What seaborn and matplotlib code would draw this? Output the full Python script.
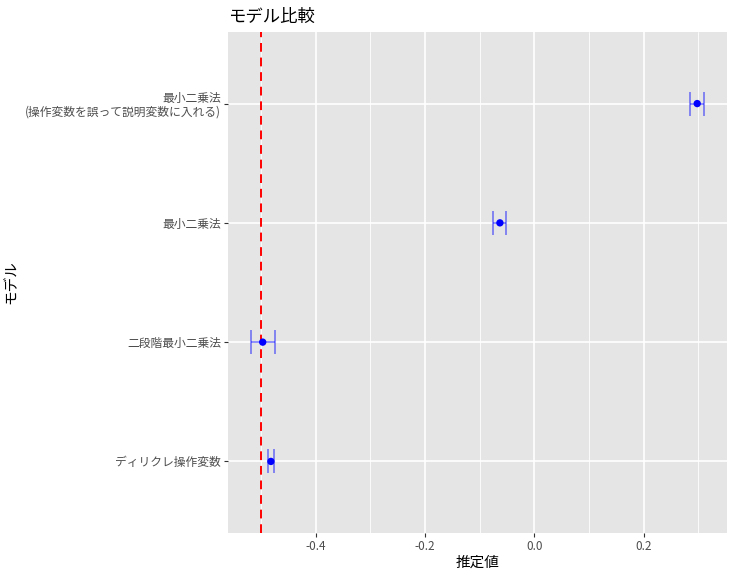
import numpy as np
import pandas as pd
import matplotlib
matplotlib.use("Agg")
import matplotlib.pyplot as plt
import seaborn as sns

# モデルごとの推定値と誤差幅（下から順）
models = ["ディリクレ操作変数", "二段階最小二乗法", "最小二乗法",
          "最小二乗法\n(操作変数を誤って説明変数に入れる)"]
estimates = [-0.482, -0.497, -0.063, 0.298]
lower = [-0.488, -0.519, -0.075, 0.285]
upper = [-0.477, -0.475, -0.051, 0.311]
true_value = -0.5

df = pd.DataFrame({"model": models, "estimate": estimates,
                   "lower": lower, "upper": upper})
df["pos"] = np.arange(1, len(models) + 1)

sns.set_theme(style="darkgrid", rc={
    "axes.facecolor": "#E5E5E5",
    "grid.color": "white",
    "axes.edgecolor": "#E5E5E5",
})
plt.rcParams["font.family"] = ["Noto Sans CJK JP", "DejaVu Sans"]

fig = plt.figure(figsize=(7.34, 5.76), dpi=100)
ax = fig.add_axes([228 / 734, 1 - 533 / 576, 499 / 734, 501 / 576])

ax.errorbar(df["estimate"], df["pos"],
            xerr=[df["estimate"] - df["lower"], df["upper"] - df["estimate"]],
            fmt="none", ecolor="blue", alpha=0.5, elinewidth=1.2,
            capsize=8.5, capthick=1.2, zorder=3)
sns.scatterplot(data=df, x="estimate", y="pos", color="blue", s=28,
                edgecolor="none", ax=ax, zorder=4)
ax.axvline(true_value, color="red", linestyle=(0, (4.5, 3)), linewidth=1.4, zorder=2)

ax.set_xlim(-0.5605, 0.3525)
ax.set_ylim(0.4, 4.6)
ax.set_xticks([-0.4, -0.2, 0.0, 0.2])
ax.set_xticklabels(["-0.4", "-0.2", "0.0", "0.2"])
ax.set_xticks([-0.5, -0.3, -0.1, 0.1, 0.3], minor=True)
ax.set_yticks(df["pos"])
ax.set_yticklabels(df["model"], linespacing=1.05)
ax.grid(which="major", color="white", linewidth=1.2)
ax.grid(which="minor", axis="x", color="white", linewidth=0.6)
ax.tick_params(axis="both", which="major", length=3, width=0.8, color="#333333",
               labelsize=8.5, labelcolor="#4D4D4D", pad=2,
               bottom=True, left=True)
ax.tick_params(axis="x", which="minor", length=0)

ax.set_xlabel("推定値", fontsize=10.5, color="black", labelpad=2)
ax.set_ylabel("モデル", fontsize=10.5, color="black")
ax.yaxis.set_label_coords(-0.42, 0.5)
ax.set_title("モデル比較", fontsize=12.5, loc="left", color="black", pad=7)
for s in ax.spines.values():
    s.set_visible(False)

fig.savefig("out.png", dpi=100)
